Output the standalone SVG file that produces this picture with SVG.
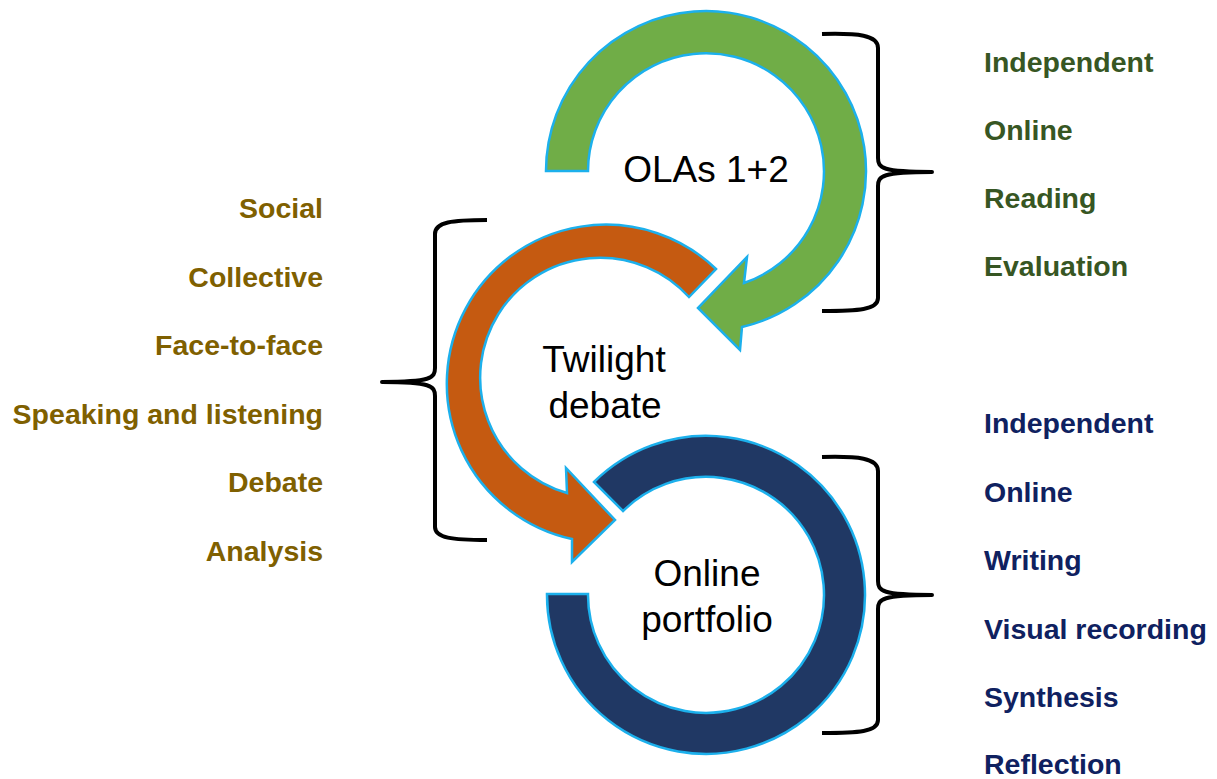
<svg xmlns="http://www.w3.org/2000/svg" width="1217" height="779" viewBox="0 0 1217 779">
<style>
.ring{stroke:#1CB0EC;stroke-width:2.5;stroke-linejoin:miter}
.center{font-family:"Liberation Sans",Arial,sans-serif;font-size:37px;fill:#000;text-anchor:middle}
.lbl{font-family:"Liberation Sans",Arial,sans-serif;font-weight:bold;font-size:28.5px}
.g{fill:#375623}
.b{fill:#7F6000;text-anchor:end}
.n{fill:#0F2160}
.brace{fill:none;stroke:#000;stroke-width:4;stroke-linecap:butt;stroke-linejoin:round}
</style>
<rect width="1217" height="779" fill="#fff"/>
<g id="node-olas">
<path class="ring" fill="#70AD47" d="M546,171 A160,160 0 1 1 742,327 L740,350 L698,308 L747,257 L744,283 A118,118 0 1 0 588,171 Z"/>
<text class="center" x="706" y="182">OLAs 1+2</text>
</g>
<g id="node-twilight">
<path class="ring" fill="#C55A11" d="M716,269 A159,159 0 1 0 572,539 L572,562 L615,520 L566,468 L567,493 A120,120 0 1 1 689,297 Z"/>
<text class="center" x="604" y="372">Twilight</text>
<text class="center" x="605" y="418">debate</text>
</g>
<g id="node-portfolio">
<path class="ring" fill="#203864" d="M547,594 A159,159 0 1 0 594,482 L623,511 A118,118 0 1 1 588,594 Z"/>
<text class="center" x="707" y="586">Online</text>
<text class="center" x="707" y="632">portfolio</text>
</g>
<g id="connectors">
<path class="brace" d="M822,34 C858,33 878,35 878,48 L878,158 C878,168 882,172 932,172 C882,172 878,176 878,186 L878,298 C878,310 858,311 822,311"/>
<path class="brace" d="M487,220 C452,220 435,222 435,234 L435,368 C435,378 431,382 382,382 C431,382 435,386 435,396 L435,527 C435,538 452,540 487,540"/>
<path class="brace" d="M822,457 C858,456 878,458 878,471 L878,581 C878,591 882,595 932,595 C882,595 878,599 878,609 L878,720 C878,732 858,733 822,733"/>
</g>
<g id="labels-olas">
<text class="lbl g" x="984" y="72">Independent</text>
<text class="lbl g" x="984" y="140">Online</text>
<text class="lbl g" x="984" y="208">Reading</text>
<text class="lbl g" x="984" y="276">Evaluation</text>
</g>
<g id="labels-twilight">
<text class="lbl b" x="323" y="218">Social</text>
<text class="lbl b" x="323" y="287">Collective</text>
<text class="lbl b" x="323" y="355">Face-to-face</text>
<text class="lbl b" x="323" y="424">Speaking and listening</text>
<text class="lbl b" x="323" y="492">Debate</text>
<text class="lbl b" x="323" y="561">Analysis</text>
</g>
<g id="labels-portfolio">
<text class="lbl n" x="984" y="433">Independent</text>
<text class="lbl n" x="984" y="502">Online</text>
<text class="lbl n" x="984" y="570">Writing</text>
<text class="lbl n" x="984" y="639">Visual recording</text>
<text class="lbl n" x="984" y="707">Synthesis</text>
<text class="lbl n" x="984" y="774">Reflection</text>
</g>
</svg>
